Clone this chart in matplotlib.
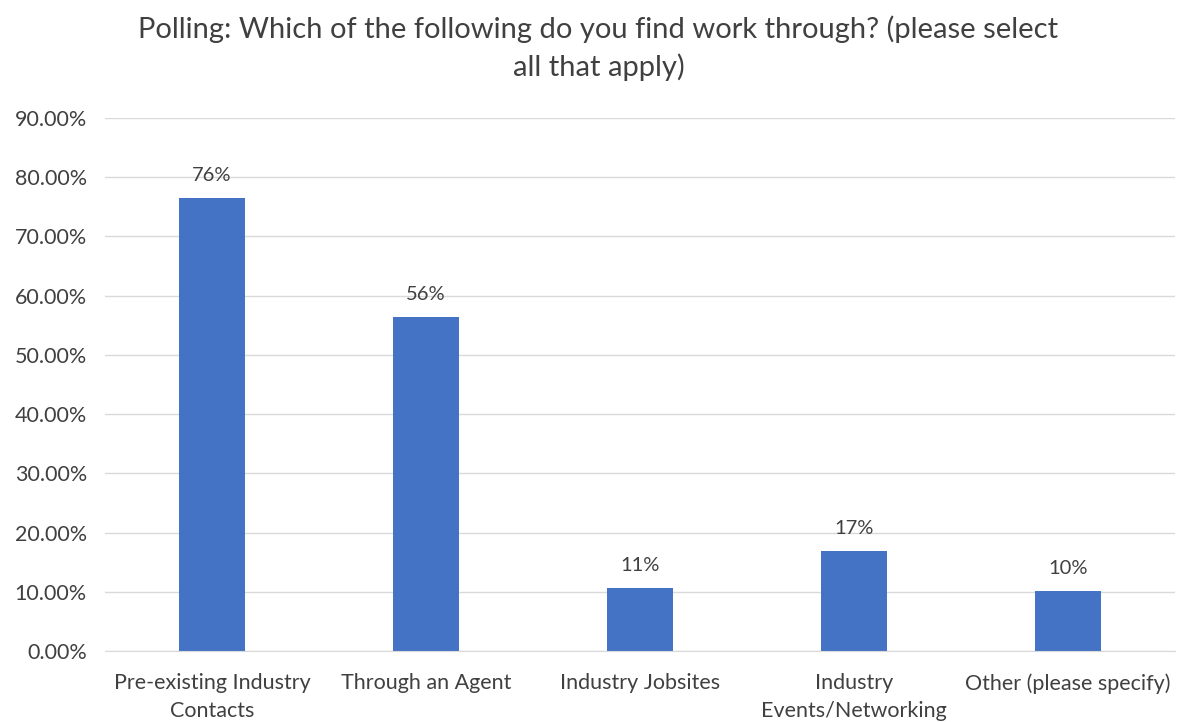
import matplotlib
matplotlib.use("Agg")
import matplotlib.pyplot as plt
from matplotlib.ticker import FuncFormatter

plt.rcParams["font.family"] = ["Lato", "DejaVu Sans"]

categories = ["Pre-existing Industry\nContacts", "Through an Agent", "Industry Jobsites",
              "Industry\nEvents/Networking", "Other (please specify)"]
values = [0.765, 0.564, 0.106, 0.169, 0.101]
labels = ["76%", "56%", "11%", "17%", "10%"]

BLUE = "#4472c4"
GRID = "#d9d9d9"
TXT = "#404040"

fig = plt.figure(figsize=(11.78, 7.22), dpi=100)
ax = fig.add_axes([0.0891, 0.0983, 0.9084, 0.7383])

x = range(len(categories))
bars = ax.bar(x, values, width=0.31, color=BLUE, zorder=2)
for b, lab in zip(bars, labels):
    ax.annotate(lab, (b.get_x() + b.get_width() / 2, b.get_height()),
                xytext=(0, 10), textcoords="offset points",
                ha="center", va="bottom", fontsize=14.5, color=TXT)

ax.set_xlim(-0.5, len(categories) - 0.5)
ax.set_ylim(0, 0.9)
ax.set_yticks([i / 10 for i in range(10)])
ax.yaxis.set_major_formatter(FuncFormatter(lambda v, p: f"{v * 100:.2f}%"))
ax.set_xticks(list(x))
ax.set_xticklabels(categories, fontsize=15.5, color=TXT, linespacing=1.5)
ax.tick_params(axis="y", labelsize=15.5, labelcolor=TXT, length=0, pad=13)
ax.tick_params(axis="x", length=0, pad=16)
ax.grid(axis="y", color=GRID, linewidth=1, zorder=0)
for s in ("top", "right", "left"):
    ax.spines[s].set_visible(False)
ax.spines["bottom"].set_color(GRID)

fig.text(0.508, 0.933, "Polling: Which of the following do you find work through? (please select\nall that apply)",
         ha="center", va="center", fontsize=21, color=TXT, linespacing=1.45)

fig.savefig("out.png", dpi=100)
